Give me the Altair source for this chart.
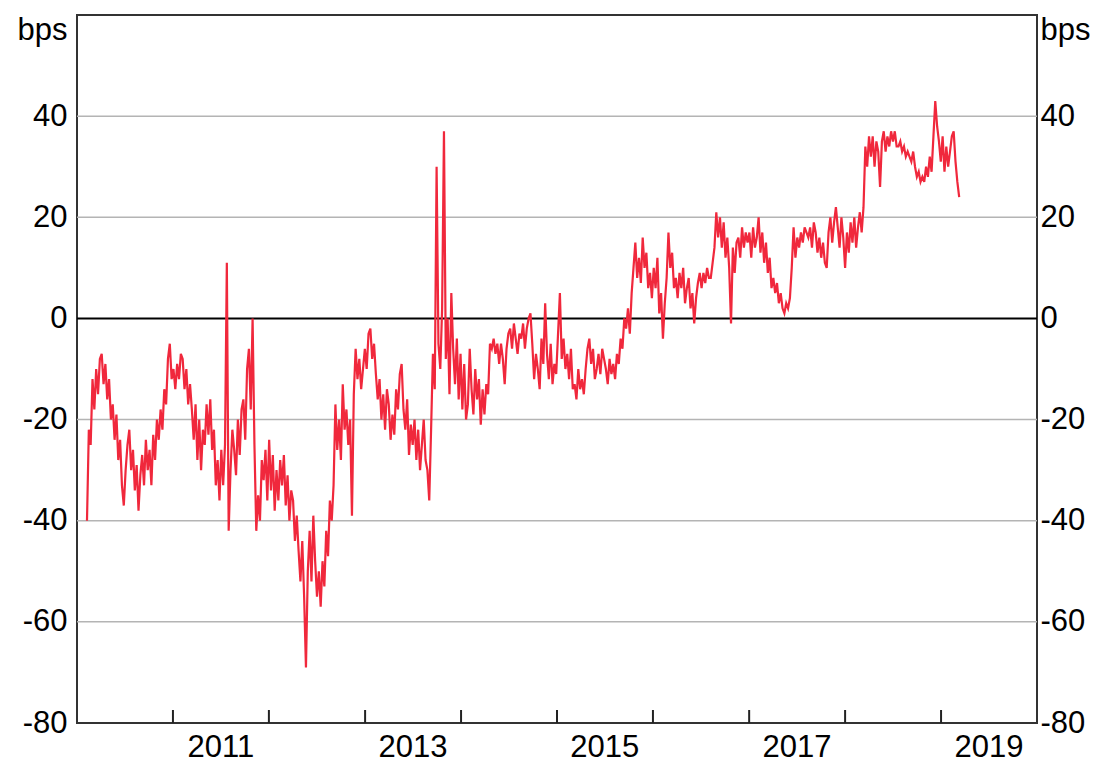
import altair as alt
import pandas as pd

# ---- data (weekly readings, bps) ----
start_date = "2010-02-08"
val_2010 = [-40, -22, -25, -12, -18, -10, -15, -8, -7, -13, -9, -16, -12, -20, -17, -24, -19, -28, -24, -33,
            -37, -30, -25, -22, -30, -26, -34, -29, -38, -31, -27, -33, -24, -30, -26, -33, -23, -28, -20, -24,
            -18, -22, -14, -17, -8, -5, -12]
val_2011 = [-10, -14, -9, -12, -7, -8, -14, -10, -17, -13, -18, -24, -17, -28, -20, -30, -22, -25, -17, -23,
            -16, -26, -22, -33, -28, -36, -26, -33, -25, 11, -42, -30, -22, -26, -31, -20, -27, -18, -16, -24,
            -10, -6, -18, 0, -25, -42, -35, -40, -28, -32, -26, -36]
val_2012 = [-24, -34, -27, -38, -30, -36, -28, -33, -27, -37, -31, -40, -34, -36, -44, -39, -46, -52, -44, -55,
            -69, -50, -42, -52, -39, -48, -55, -50, -57, -48, -53, -42, -47, -36, -40, -33, -17, -26, -20, -28,
            -13, -22, -18, -25, -20, -39, -15, -6, -12, -8, -14, -10]
val_2013 = [-6, -10, -3, -2, -8, -5, -11, -16, -12, -20, -15, -22, -14, -17, -24, -19, -23, -14, -18, -11,
            -9, -18, -22, -16, -27, -21, -25, -20, -28, -22, -30, -25, -20, -28, -30, -36, -22, -7, -14, 30,
            -5, -10, 2, 37, -8, 0, -15, 5, -6, -13, -4, -16]
val_2014 = [-7, -18, -9, -20, -17, -6, -14, -19, -10, -16, -12, -21, -14, -19, -13, -15, -5, -6, -4, -7,
            -5, -9, -5, -8, -13, -6, -3, -2, -6, -1, -4, -7, -3, -4, -1, -6, -2, 0, 1, -5,
            -12, -7, -10, -14, -4, -9, 3, -7, -12, -5, -13, -9]
val_2015 = [-11, -3, 5, -8, -4, -10, -7, -12, -6, -14, -13, -16, -10, -14, -12, -15, -10, -6, -4, -9,
            -6, -12, -10, -7, -11, -6, -8, -10, -13, -8, -11, -9, -12, -7, -9, -4, -6, 0, -2, 2,
            -3, 5, 10, 15, 8, 12, 7, 16, 10, 13, 6, 9]
val_2016 = [4, 10, 6, 12, 1, 5, -4, 3, 8, 17, 10, 13, 6, 8, 4, 9, 6, 10, 3, 6,
            8, 2, 5, -1, 4, 7, 9, 6, 9, 7, 10, 8, 8, 11, 14, 21, 16, 20, 14, 19,
            12, 16, 10, -1, 14, 9, 15, 16, 12, 18, 14, 17]
val_2017 = [15, 17, 12, 18, 14, 16, 20, 13, 17, 11, 15, 9, 12, 6, 8, 5, 7, 3, 5, 2,
            1, 3, 2, 4, 10, 18, 12, 16, 14, 17, 15, 18, 17, 16, 18, 14, 19, 17, 13, 16,
            12, 15, 11, 10, 17, 20, 15, 19, 22, 18, 14, 20]
val_2018 = [16, 10, 17, 13, 19, 15, 20, 14, 18, 21, 17, 22, 34, 30, 36, 32, 36, 30, 35, 33,
            26, 35, 37, 33, 36, 34, 37, 35, 37, 34, 34, 35, 33, 34, 32, 33, 32, 31, 33, 30,
            28, 29, 27, 28, 27, 30, 28, 32, 29, 36, 43, 38]
val_2019 = [35, 31, 36, 29, 34, 30, 33, 36, 37, 31, 27, 24]

tick_years = [2011, 2012, 2013, 2014, 2015, 2016, 2017, 2018, 2019]
label_years = [2011, 2013, 2015, 2017, 2019]
grid_values = [-60, -40, -20, 20, 40]
axis_values = [-80, -60, -40, -20, 0, 20, 40, 57]

values = (val_2010 + val_2011 + val_2012 + val_2013 + val_2014 + val_2015 +
          val_2016 + val_2017 + val_2018 + val_2019)
df = pd.DataFrame({
    "date": pd.date_range(start=start_date, periods=len(values), freq="7D"),
    "value": values,
})
grid_df = pd.DataFrame({"y": grid_values})
zero_df = pd.DataFrame({"y": [0]})
tick_df = pd.DataFrame({"date": [pd.Timestamp(f"{y}-01-01") for y in tick_years]})
label_df = pd.DataFrame({
    "date": [pd.Timestamp(f"{y}-07-02") for y in label_years],
    "label": [str(y) for y in label_years],
})

FONT = "Liberation Sans, Arial, sans-serif"
FS = 31
label_expr = "datum.value == 57 ? 'bps' : toString(datum.value)"

y_scale = alt.Scale(domain=[-80, 60], nice=False, zero=False)
x_scale = alt.Scale(domain=[alt.DateTime(year=2010, month=1, date=1),
                            alt.DateTime(year=2020, month=1, date=1)])

left_axis = alt.Axis(values=axis_values, labelExpr=label_expr, grid=False, ticks=False,
                     domain=False, title=None, labelFontSize=FS, labelFont=FONT,
                     labelColor="black", labelPadding=10, orient="left")
right_axis = alt.Axis(values=axis_values, labelExpr=label_expr, grid=False, ticks=False,
                      domain=False, title=None, labelFontSize=FS, labelFont=FONT,
                      labelColor="black", labelPadding=3, orient="right", labelAlign="left")

grid = alt.Chart(grid_df).mark_rule(color="#b4b4b4", strokeWidth=1.5).encode(
    y=alt.Y("y:Q", scale=y_scale, axis=left_axis)
)
zero = alt.Chart(zero_df).mark_rule(color="black", strokeWidth=2).encode(
    y=alt.Y("y:Q", scale=y_scale, axis=right_axis)
)
line = alt.Chart(df).mark_line(color="#f0283c", strokeWidth=2.2).encode(
    x=alt.X("date:T", scale=x_scale, axis=None),
    y=alt.Y("value:Q", scale=y_scale, axis=None),
)
ticks = alt.Chart(tick_df).mark_rule(color="#222", strokeWidth=2).encode(
    x=alt.X("date:T", scale=x_scale, axis=None),
    y=alt.value(708),
    y2=alt.value(695),
)
year_labels = alt.Chart(label_df).mark_text(
    font=FONT, fontSize=FS, color="black", baseline="alphabetic", align="center"
).encode(
    x=alt.X("date:T", scale=x_scale, axis=None),
    y=alt.value(742),
    text="label:N",
)

chart = alt.layer(grid, zero, line, ticks, year_labels).resolve_axis(y="independent").properties(
    width=960,
    height=708,
    autosize=alt.AutoSizeParams(type="none"),
    padding={"left": 69, "top": 7, "right": 55, "bottom": 42},
).configure_view(stroke="#333", strokeWidth=2)

chart.save("out.html", embed_options={"renderer": "svg", "actions": False})
